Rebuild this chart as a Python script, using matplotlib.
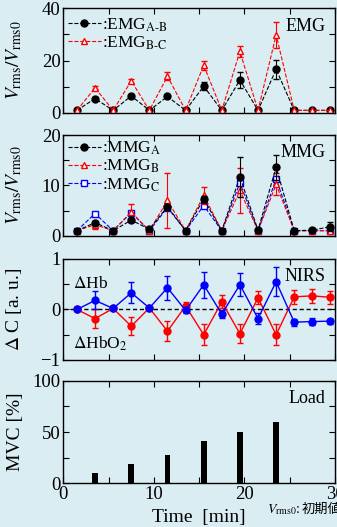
import matplotlib
matplotlib.use('Agg')
import matplotlib.pyplot as plt
from matplotlib.ticker import MultipleLocator
from matplotlib.lines import Line2D

plt.rcParams['font.family'] = ['Liberation Serif', 'Noto Sans CJK JP']
plt.rcParams['mathtext.fontset'] = 'stix'

bg = '#daedf3'

# time points [min]
t = [1.5, 3.5, 5.5, 7.5, 9.5, 11.5, 13.5, 15.5, 17.5, 19.5, 21.5, 23.5, 25.5, 27.5, 29.5]

# EMG
emg_ab = [1, 5.5, 1, 6.5, 1, 6.3, 1, 10.2, 1, 12.6, 1, 16.7, 1, 1, 1]
emg_ab_err = [0, 0.6, 0, 0.6, 0, 0.6, 0, 1.5, 0, 3.0, 0, 3.7, 0, 0, 0]
emg_bc = [1, 9.6, 1, 12.3, 1, 14.0, 1, 18.2, 1, 23.5, 1, 29.8, 1, 1, 1]
emg_bc_err = [0, 0.6, 0, 0.8, 0, 1.5, 0, 1.8, 0, 2.1, 0, 5.0, 0, 0, 0]

# MMG
mmg_a = [1, 2.6, 1, 3.1, 1.3, 5.8, 1, 7.3, 1, 11.7, 1.1, 13.6, 1, 1.1, 1.8]
mmg_a_err = [0, 0.4, 0, 0.4, 0, 0.5, 0, 0.5, 0, 4.0, 0, 2.5, 0, 0, 0.9]
mmg_b = [1, 2.2, 1, 4.7, 1, 7.0, 1, 8.0, 1, 9.0, 1, 10.2, 1, 1, 1]
mmg_b_err = [0, 0.8, 0, 1.7, 0, 5.5, 0, 1.7, 0, 4.4, 0, 2.2, 0, 0, 0]
mmg_c = [1, 4.4, 1, 4.6, 1, 5.6, 1, 6.0, 1, 10.5, 1, 11.3, 1, 1, 1]

# NIRS
hb = [0, 0.18, 0.02, 0.33, 0.03, 0.43, -0.02, 0.49, -0.09, 0.49, -0.18, 0.55, -0.25, -0.24, -0.23]
hb_err = [0, 0.18, 0.02, 0.21, 0.02, 0.24, 0.04, 0.26, 0.07, 0.23, 0.11, 0.29, 0.07, 0.07, 0.05]
hbo2 = [0, -0.18, 0.02, -0.33, 0.03, -0.43, 0.07, -0.50, 0.15, -0.48, 0.23, -0.50, 0.25, 0.27, 0.24]
hbo2_err = [0, 0.19, 0.02, 0.18, 0.02, 0.2, 0.08, 0.21, 0.13, 0.19, 0.13, 0.21, 0.14, 0.14, 0.13]

# Load
load_t = [3.5, 7.5, 11.5, 15.5, 19.5, 23.5]
load = [10, 19, 28, 41, 50, 60]

fig = plt.figure(figsize=(3.37, 5.27), dpi=100, facecolor=bg)

L, W = 0.188, 0.806
ax1 = fig.add_axes([L, 0.7856, W, 0.1987])
ax2 = fig.add_axes([L, 0.5527, W, 0.191])
ax3 = fig.add_axes([L, 0.3169, W, 0.1917])
ax4 = fig.add_axes([L, 0.0829, W, 0.1947])

for ax in (ax1, ax2, ax3, ax4):
    ax.set_facecolor(bg)
    ax.set_xlim(0, 30)
    ax.xaxis.set_major_locator(MultipleLocator(10))
    ax.xaxis.set_minor_locator(MultipleLocator(5))
    ax.tick_params(which='both', direction='in', top=True, right=True,
                   length=4, width=0.8, labelsize=13.5, pad=2)
    for s in ax.spines.values():
        s.set_linewidth(1.0)
    if ax is not ax4:
        ax.tick_params(labelbottom=False)
    ax.yaxis.set_label_coords(-0.145, 0.5)

leg_kw = dict(loc='upper left', frameon=False, fontsize=12.5, handlelength=1.9,
              handletextpad=0.05, borderaxespad=0.0, labelspacing=0.05, borderpad=0.1)

# EMG panel
ax1.errorbar(t, emg_ab, yerr=emg_ab_err, color='black', ls='--', lw=0.8,
             marker='o', ms=5, capsize=2.5, elinewidth=0.8)
ax1.errorbar(t, emg_bc, yerr=emg_bc_err, color='red', ls='--', lw=0.8,
             marker='^', ms=5, mfc='white', mec='red', capsize=2.5, elinewidth=0.8)
ax1.set_ylim(0, 40)
ax1.yaxis.set_major_locator(MultipleLocator(20))
ax1.yaxis.set_minor_locator(MultipleLocator(10))
ax1.set_ylabel('$V_\\mathrm{rms}/V_\\mathrm{rms0}$', fontsize=14)
ax1.text(0.965, 0.91, 'EMG', transform=ax1.transAxes, ha='right', va='top', fontsize=13)
h1 = [Line2D([], [], color='black', ls='--', lw=0.8, marker='o', ms=5),
      Line2D([], [], color='red', ls='--', lw=0.8, marker='^', ms=5, mfc='white')]
ax1.legend(h1, [':EMG$_\\mathrm{A\\text{-}B}$', ':EMG$_\\mathrm{B\\text{-}C}$'],
           bbox_to_anchor=(0.01, 0.94), **leg_kw)

# MMG panel
ax2.errorbar(t, mmg_a, yerr=mmg_a_err, color='black', ls='--', lw=0.8,
             marker='o', ms=5, capsize=2.5, elinewidth=0.8, zorder=4)
ax2.errorbar(t, mmg_b, yerr=mmg_b_err, color='red', ls='--', lw=0.8,
             marker='^', ms=5, mfc='white', mec='red', capsize=2.5, elinewidth=0.8, zorder=3)
ax2.plot(t, mmg_c, color='blue', ls='--', lw=0.8, marker='s', ms=5,
         mfc='white', mec='blue', zorder=2)
ax2.set_ylim(0, 20)
ax2.yaxis.set_major_locator(MultipleLocator(10))
ax2.yaxis.set_minor_locator(MultipleLocator(5))
ax2.set_ylabel('$V_\\mathrm{rms}/V_\\mathrm{rms0}$', fontsize=14)
ax2.text(0.965, 0.91, 'MMG', transform=ax2.transAxes, ha='right', va='top', fontsize=13)
h2 = [Line2D([], [], color='black', ls='--', lw=0.8, marker='o', ms=5),
      Line2D([], [], color='red', ls='--', lw=0.8, marker='^', ms=5, mfc='white'),
      Line2D([], [], color='blue', ls='--', lw=0.8, marker='s', ms=5, mfc='white')]
ax2.legend(h2, [':MMG$_\\mathrm{A}$', ':MMG$_\\mathrm{B}$', ':MMG$_\\mathrm{C}$'],
           bbox_to_anchor=(0.01, 0.97), **leg_kw)

# NIRS panel
ax3.axhline(0, color='black', ls='--', lw=1.0, dashes=(3, 2), zorder=1)
ax3.errorbar(t, hbo2, yerr=hbo2_err, color='red', lw=1.0, marker='o', ms=5,
             capsize=2.5, elinewidth=1.0, zorder=3)
ax3.errorbar(t, hb, yerr=hb_err, color='blue', lw=1.0, marker='o', ms=5,
             capsize=2.5, elinewidth=1.0, zorder=4)
ax3.set_ylim(-1, 1)
ax3.yaxis.set_major_locator(MultipleLocator(1))
ax3.yaxis.set_minor_locator(MultipleLocator(0.5))
ax3.set_ylabel('$\\Delta$ C [a. u.]', fontsize=14)
ax3.text(0.965, 0.91, 'NIRS', transform=ax3.transAxes, ha='right', va='top', fontsize=13)
ax3.text(0.035, 0.75, '$\\Delta$Hb', transform=ax3.transAxes, ha='left', va='center', fontsize=12.5)
ax3.text(0.035, 0.16, '$\\Delta$HbO$_2$', transform=ax3.transAxes, ha='left', va='center', fontsize=12.5)

# Load panel
ax4.bar(load_t, load, width=0.65, color='black')
ax4.set_ylim(0, 100)
ax4.yaxis.set_major_locator(MultipleLocator(50))
ax4.yaxis.set_minor_locator(MultipleLocator(25))
ax4.set_ylabel('MVC [%]', fontsize=14)
ax4.set_xlabel('Time  [min]', fontsize=14, labelpad=4)
ax4.text(0.965, 0.91, 'Load', transform=ax4.transAxes, ha='right', va='top', fontsize=13)

# footnote (runs off the right edge as in the original)
fig.text(300 / 337, 0.033, '$V_\\mathrm{rms0}$:', fontsize=10, ha='right', va='center')
fig.text(302 / 337, 0.033, '初期値', fontsize=9.5, family='Noto Sans CJK JP',
         ha='left', va='center')

fig.savefig('out.png', dpi=100, facecolor=bg)
